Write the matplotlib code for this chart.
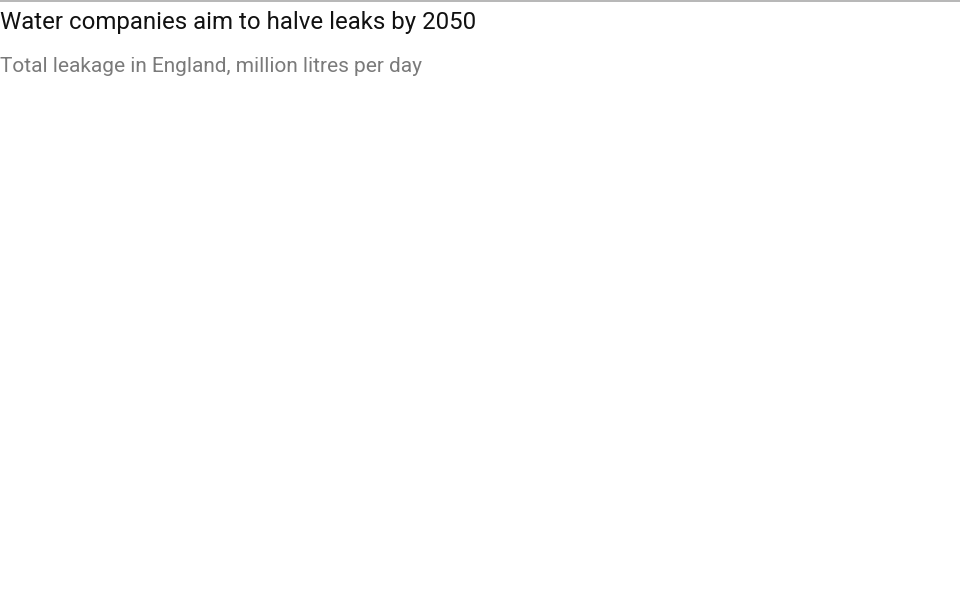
import matplotlib
matplotlib.use('Agg')
import matplotlib.pyplot as plt

# chart has no data drawn yet, only the heading block
title = 'Water companies aim to halve leaks by 2050'
subtitle = 'Total leakage in England, million litres per day'


def main():
    plt.rcParams['font.family'] = ['Roboto', 'DejaVu Sans']
    fig = plt.figure(figsize=(9.6, 6.04), dpi=100)
    fig.patch.set_facecolor('white')

    # thin rule across the top
    fig.add_artist(plt.Line2D([0, 1], [0.999, 0.999], color='#aaaaaa',
                              lw=1.2, transform=fig.transFigure))

    fig.text(0.0, 1 - 29 / 604, title, fontsize=17.3, color='#111111',
             ha='left', va='baseline')
    fig.text(0.0, 1 - 72 / 604, subtitle, fontsize=15, color='#7a7a7a',
             ha='left', va='baseline')

    fig.savefig('out.png', dpi=100, facecolor='white')
    plt.close(fig)


if __name__ == '__main__':
    main()
